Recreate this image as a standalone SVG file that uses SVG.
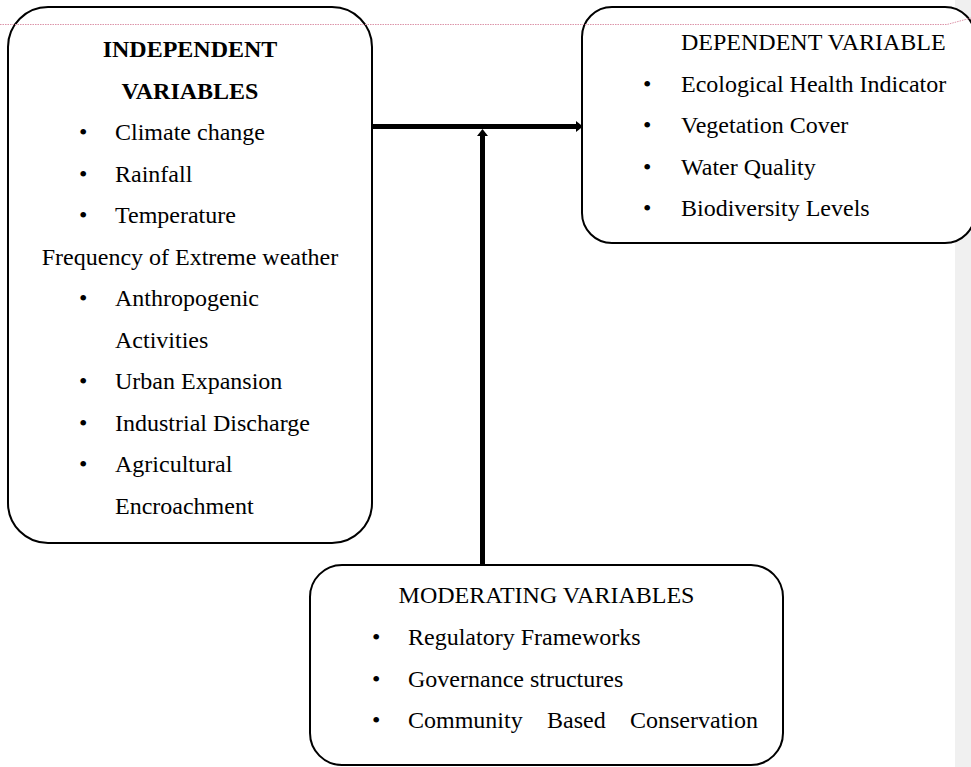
<svg xmlns="http://www.w3.org/2000/svg" width="971" height="767" viewBox="0 0 971 767">
<style>
.box{fill:#fff;stroke:#000;stroke-width:2}
.t{font-family:"Liberation Serif","Times New Roman",serif;font-size:24px;fill:#000}
.b{font-weight:bold}
.m{text-anchor:middle}
.con{stroke:#000;stroke-width:5;fill:none}
</style>
<defs>
<marker id="ah" viewBox="0 0 7 11" refX="0" refY="5.5" markerWidth="7" markerHeight="11" orient="auto" markerUnits="userSpaceOnUse">
<path d="M0,0 L7,5.5 L0,11 z" fill="#000"/>
</marker>
</defs>
<rect x="955" y="0" width="16" height="767" fill="#f0f0f0"/>

<g id="independent">
<rect class="box" x="8" y="7" width="364" height="536" rx="40" ry="40"/>
<text class="t b m" x="190" y="57">INDEPENDENT</text>
<text class="t b m" x="190" y="98.5">VARIABLES</text>
<text class="t" x="79" y="140">•</text><text class="t" x="115" y="140">Climate change</text>
<text class="t" x="79" y="181.5">•</text><text class="t" x="115" y="181.5">Rainfall</text>
<text class="t" x="79" y="223">•</text><text class="t" x="115" y="223">Temperature</text>
<text class="t m" x="190" y="264.5">Frequency of Extreme weather</text>
<text class="t" x="79" y="306">•</text><text class="t" x="115" y="306">Anthropogenic</text>
<text class="t" x="115" y="347.5">Activities</text>
<text class="t" x="79" y="389">•</text><text class="t" x="115" y="389">Urban Expansion</text>
<text class="t" x="79" y="430.5">•</text><text class="t" x="115" y="430.5">Industrial Discharge</text>
<text class="t" x="79" y="472">•</text><text class="t" x="115" y="472">Agricultural</text>
<text class="t" x="115" y="513.5">Encroachment</text>
</g>

<g id="dependent">
<rect class="box" x="582" y="7" width="393" height="236" rx="30" ry="30"/>
<text class="t" x="681" y="50">DEPENDENT VARIABLE</text>
<text class="t" x="643" y="91.5">•</text><text class="t" x="681" y="91.5">Ecological Health Indicator</text>
<text class="t" x="643" y="133">•</text><text class="t" x="681" y="133">Vegetation Cover</text>
<text class="t" x="643" y="174.5">•</text><text class="t" x="681" y="174.5">Water Quality</text>
<text class="t" x="643" y="216">•</text><text class="t" x="681" y="216">Biodiversity Levels</text>
</g>

<g id="moderating">
<rect class="box" x="310" y="565" width="473" height="200" rx="32" ry="32"/>
<text class="t m" x="546.5" y="603">MODERATING VARIABLES</text>
<text class="t" x="372" y="645">•</text><text class="t" x="408" y="645">Regulatory Frameworks</text>
<text class="t" x="372" y="687">•</text><text class="t" x="408" y="687">Governance structures</text>
<text class="t" x="372" y="728">•</text><text class="t" y="728"><tspan x="408">Community</tspan><tspan x="547">Based</tspan><tspan x="630">Conservation</tspan></text>
</g>

<path d="M0,24.5 H947 L971,18" fill="none" stroke="#dc93a8" stroke-width="1" stroke-dasharray="1.5,1"/>

<g id="connectors">
<line class="con" x1="373" y1="126.5" x2="576" y2="126.5" marker-end="url(#ah)"/>
<line class="con" x1="482.5" y1="564" x2="482.5" y2="136" marker-end="url(#ah)"/>
</g>
</svg>
